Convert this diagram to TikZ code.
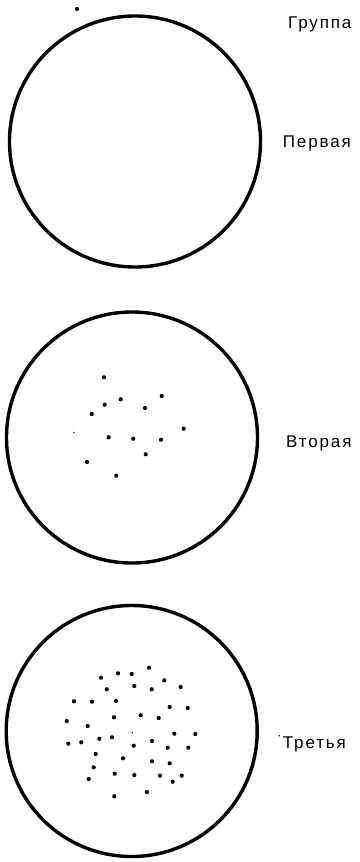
\documentclass[tikz,border=0pt]{standalone}
\usepackage{fontspec}
\setmainfont{Liberation Sans}[LetterSpace=11]
\usepackage{tikz}
\usetikzlibrary{positioning}
\tikzset{
  dish/.style={circle,draw=black,line width=3.4pt,minimum size=251pt,inner sep=0pt},
  tag/.style={anchor=base west,inner sep=0pt,font=\fontsize{17pt}{17pt}\selectfont},
  speck/.style={fill=black}
}

\begin{document}
\begin{tikzpicture}[x=1pt,y=-1pt]
\useasboundingbox (0,0) rectangle (359,862);
\node[dish] (first) at (135,141.5) {};
\node[dish] (second) at (132,437.5) {};
\node[dish] (third) at (131.7,731) {};
\node[tag] (group) at (288,28) {Группа};
\node[tag] (lfirst) at (282.7,147.3) {Первая};
\node[tag] (lsecond) at (286,447.3) {Вторая};
\node[tag] (lthird) at (282.7,748.3) {Третья};
% colonies, second dish
\foreach \x/\y in {104/377.3,161.7/396,120.7/399.3,104.7/404.7,145/408,91.7/414,
  183.7/428.7,108.7/437.3,133.3/438.7,161/439.7,145.7/454.3,87/462,116.3/475.7}
  \fill[speck] (\x,\y) circle (2.1pt);
% colonies, third dish
\foreach \x/\y in {149/667.7,118/673.3,131.7/674,101/677.7,164.3/680.3,134.3/686,
  106.7/689.3,151.7/689.3,180.7/687,74/701.3,92/701.7,116/701,169.7/707,187.7/708,
  114/717.3,140.7/715.3,158.7/718,66.7/721,87.7/726,174.3/733.7,195.3/734,
  99.3/738.7,112/737.3,68.3/743.7,81.3/742.3,133.7/745.7,152/741,167.7/747.7,
  188.3/747.7,95.7/754,123/758.3,152/761.3,169.7/763.3,93.7/767.3,114.7/773.7,
  134.3/775,160/775.7,181.7/775.7,172.7/781.7,88.7/779,114.3/796.3,147/792}
  \fill[speck] (\x,\y) circle (2.1pt);
% stray marks
\fill[speck] (77,9) circle (2.1pt);
\foreach \x/\y in {74/432.3,132.3/732.7,279.3/735.7}
  \fill[speck] (\x,\y) circle (0.8pt);
\end{tikzpicture}
\end{document}
